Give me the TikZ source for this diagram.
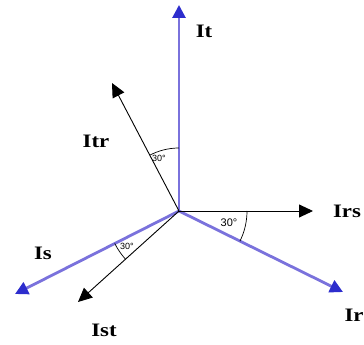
\documentclass[tikz,border=0pt]{standalone}
\usepackage{fontspec}
\setmainfont{Liberation Serif}
\setsansfont{Liberation Sans}
\usetikzlibrary{arrows.meta}
\definecolor{phase}{RGB}{122,114,220}
\definecolor{phasetip}{RGB}{45,45,205}
\begin{document}
\begin{tikzpicture}[x=1pt, y=1pt,
    phasevec/.style={line width=2.8pt, phase, -{Triangle[length=13pt, width=13pt, fill=phasetip, color=phasetip]}},
    linevec/.style={line width=0.9pt, -{Triangle[length=14pt, width=13pt]}},
    lbl/.style={font=\bfseries\fontsize{19}{19}\selectfont, xscale=1.2, transform shape, inner sep=0pt},
    ang/.style={font=\sffamily\fontsize{9}{9}\selectfont, inner sep=0pt}]
    \useasboundingbox (-179,-134) rectangle (185,211);

    % Star point and phasor tips
    \coordinate (O) at (0,0);
    \coordinate (tipT) at (0,206);
    \coordinate (tipR) at (164,-81);
    \coordinate (tipS) at (-164,-83);
    \coordinate (tipTR) at (-67,128);
    \coordinate (tipRS) at (134,0);
    \coordinate (tipST) at (-101,-91);

    % Phase currents
    \draw[phasevec] (O) -- (tipT);
    \draw[phasevec] (O) -- (tipR);
    \draw[phasevec] (O) -- (tipS);

    % Line currents
    \draw[linevec] (O) -- (tipTR);
    \draw[linevec] (O) -- (tipRS);
    \draw[linevec] (O) -- (tipST);

    % Labels
    \node[lbl] (It) at (25,180) {It};
    \node[lbl] (Ir) at (175,-104) {Ir};
    \node[lbl] (Is) at (-136,-42) {Is};
    \node[lbl] (Itr) at (-83,70) {Itr};
    \node[lbl] (Irs) at (168,0) {Irs};
    \node[lbl] (Ist) at (-75,-119) {Ist};

    % 30 degree angles
    \draw[line width=0.7pt] ([shift={(90:63)}]O) arc[start angle=90, end angle=117.6, radius=63];
    \node[ang] (angT) at (-20,53) {30°};
    \draw[line width=0.7pt] ([shift={(0:68)}]O) arc[start angle=0, end angle=-26.3, radius=68];
    \node[ang, font=\sffamily\fontsize{11}{11}\selectfont] (angR) at (50,-12) {30°};
    \draw[line width=0.7pt] ([shift={(206.8:72)}]O) arc[start angle=206.8, end angle=222, radius=72];
    \node[ang] (angS) at (-52,-35) {30°};
\end{tikzpicture}
\end{document}
